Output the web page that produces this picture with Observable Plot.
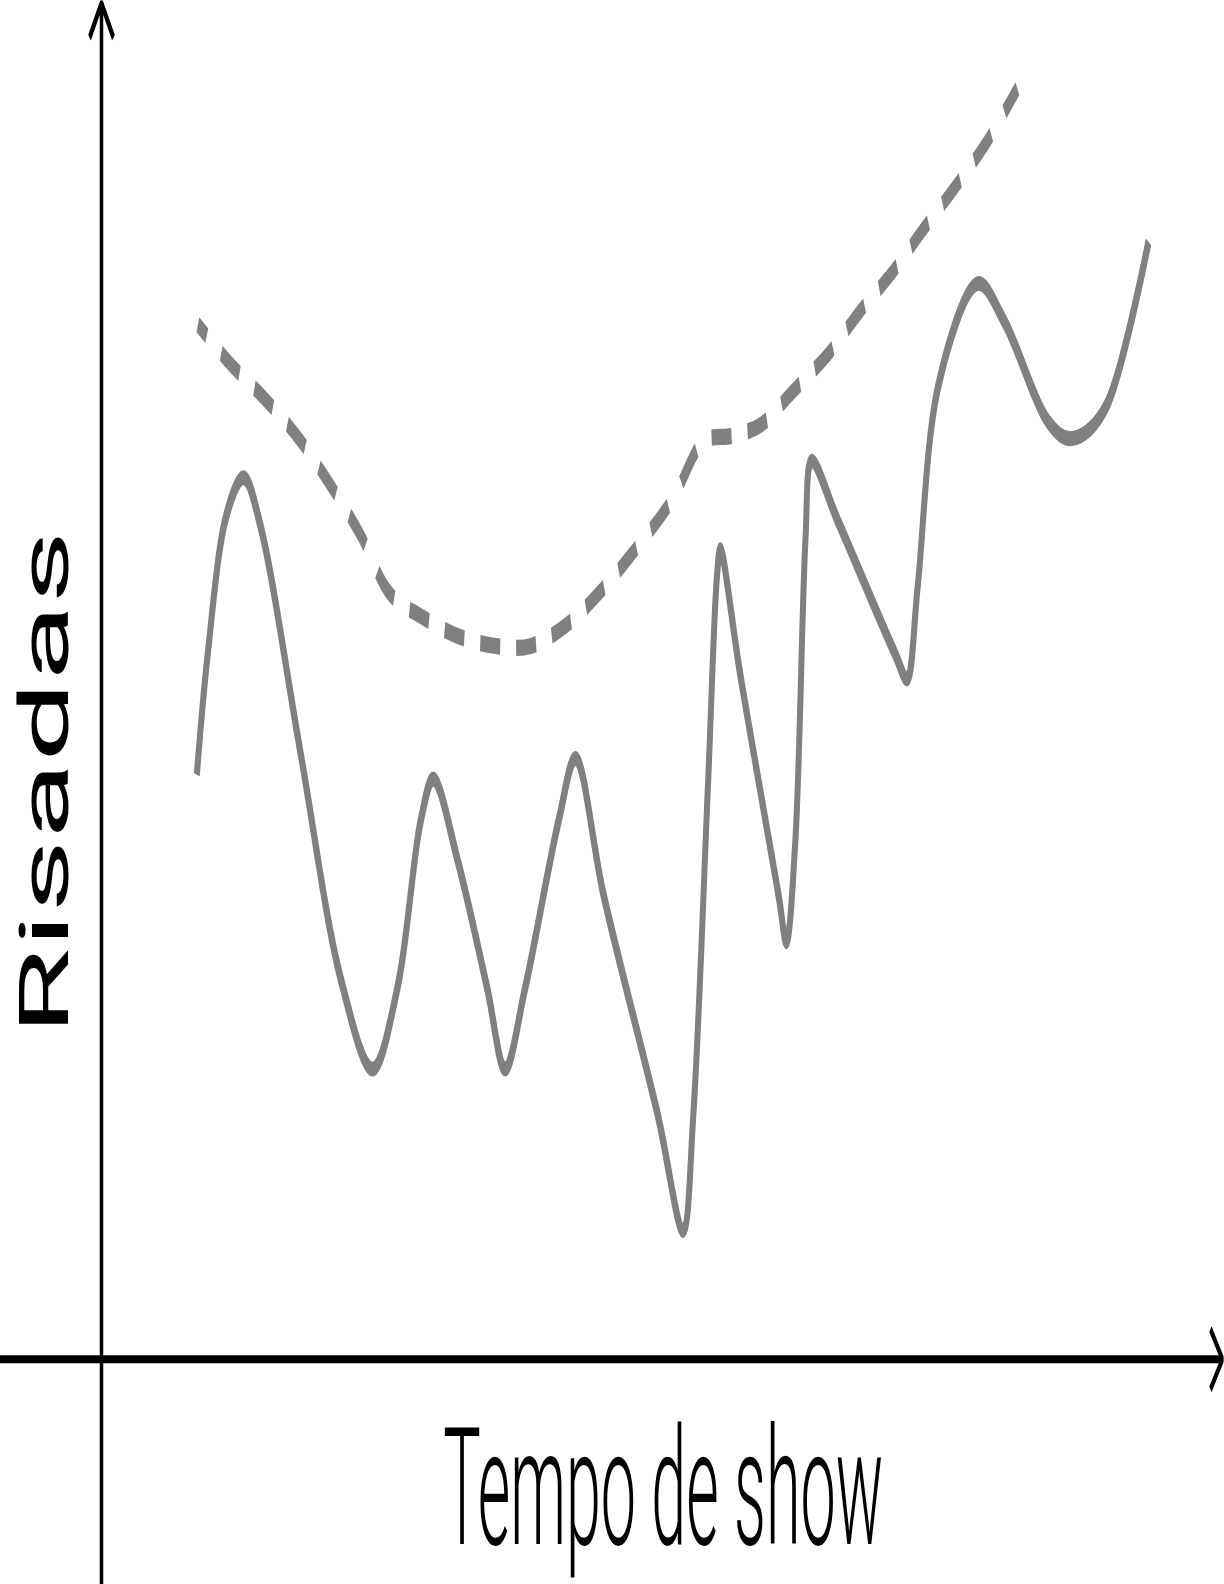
<!DOCTYPE html>
<html>
<head>
<meta charset="utf-8">
<script src="https://cdn.jsdelivr.net/npm/d3@7"></script>
<script src="https://cdn.jsdelivr.net/npm/@observablehq/plot@0.6"></script>
<style>
  html, body { margin: 0; padding: 0; background: #ffffff; }
  #chart svg { display: block; }
</style>
</head>
<body>
<div id="chart"></div>
<script>
// ---- data ----
// solid line: laughs over show time
const showTime = [8.5, 9.5, 11.1, 12.7, 14.2, 17.8, 21.3, 24.2, 26.4, 28.5, 29.6, 31.8, 34.4, 36.0,
  37.8, 40.8, 42.3, 44.8, 49.6, 51.9, 52.8, 54.1, 54.9, 55.2, 57.0, 60.4, 61.1, 61.9, 62.8, 63.3,
  65.7, 70.8, 71.9, 72.8, 74.6, 78.1, 80.5, 84.4, 86.6, 89.7, 93.4];
const laughs = [43.1, 52.2, 62.1, 65.0, 61.4, 44.5, 28.2, 21.4, 27.4, 39.8, 42.8, 36.7, 27.4, 21.4,
  27.4, 39.8, 44.3, 34.2, 18.1, 9.5, 18.1, 42.3, 57.7, 59.7, 50.4, 34.2, 30.8, 38.3, 60.5, 66.2,
  61.8, 52.0, 50.2, 56.9, 71.6, 79.3, 76.6, 69.2, 67.9, 70.4, 82.4];
// dashed line: trend
const trendTime = [8.6, 11.5, 14.6, 17.6, 20.4, 23.1, 25.6, 28.7, 31.9, 35.2, 38.3, 41.7, 44.5, 47.9,
  51.0, 53.6, 56.2, 58.8, 61.6, 64.8, 67.6, 70.6, 73.3, 76.2, 79.0, 81.7];
const trendLaughs = [76.3, 73.4, 70.8, 67.9, 64.5, 60.8, 56.6, 54.7, 53.3, 52.6, 52.6, 54.3, 56.6, 60.0,
  63.5, 67.6, 68.1, 68.9, 71.3, 74.1, 77.2, 80.2, 83.3, 86.5, 89.8, 93.7];
// axis titles
const xTitle = "Tempo de show";
const yTitle = "Risadas";

// ---- layout ----
const W = 1224, H = 1584;
const stretch = 2.5;              // the reference is stretched vertically
const H0 = H / stretch;
const gray = "#808080";

const solid = showTime.map((t, i) => ({t, v: laughs[i]}));
const trend = trendTime.map((t, i) => ({t, v: trendLaughs[i]}));

const chart = Plot.plot({
  width: W,
  height: H0,
  marginLeft: 101,
  marginRight: 2,
  marginTop: 2 / stretch,
  marginBottom: H0 - 1358 / stretch,
  x: {domain: [0, 100], axis: null},
  y: {domain: [0, 100], axis: null},
  style: {background: "#ffffff", overflow: "visible"},
  marks: [
    Plot.arrow([0], {x1: -9.1, y1: 0, x2: 100, y2: 0, stroke: "#000", strokeWidth: 3.2,
      headAngle: 90, headLength: 8, strokeLinecap: "butt"}),
    Plot.arrow([0], {x1: 0, y1: -17, x2: 0, y2: 100, stroke: "#000", strokeWidth: 3.5,
      headAngle: 82, headLength: 7.8, strokeLinecap: "butt"}),
    Plot.line(trend, {x: "t", y: "v", curve: "catmull-rom", stroke: gray, strokeWidth: 6.5,
      strokeDasharray: "20,16", strokeDashoffset: 10, strokeLinecap: "butt"}),
    Plot.line(solid, {x: "t", y: "v", curve: "catmull-rom", stroke: gray, strokeWidth: 6,
      strokeLinecap: "butt"}),
    Plot.text([xTitle], {x: 50.1, y: -13.6, text: d => d, fontSize: 65, fontWeight: 300,
      fontFamily: "Roboto", fill: "#000", textAnchor: "middle", lineAnchor: "bottom"}),
    Plot.text([yTitle], {x: -3.0, y: 42.5, text: d => d, rotate: -90, fontSize: 68,
      fontFamily: "Roboto", fill: "#000", textAnchor: "middle", lineAnchor: "bottom"})
  ]
});

// stretch the drawing vertically like the reference
chart.setAttribute("height", H);
chart.setAttribute("width", W);
chart.setAttribute("preserveAspectRatio", "none");
chart.style.width = W + "px";
chart.style.height = H + "px";
chart.style.maxWidth = "none";

// condense the titles to the reference widths
d3.select(chart).selectAll("text").each(function() {
  const s = this.textContent;
  if (s === xTitle) { this.setAttribute("textLength", 440); this.setAttribute("lengthAdjust", "spacingAndGlyphs"); }
  if (s === yTitle) { this.setAttribute("textLength", 202); this.setAttribute("lengthAdjust", "spacingAndGlyphs"); }
});

document.getElementById("chart").appendChild(chart);
</script>
</body>
</html>
